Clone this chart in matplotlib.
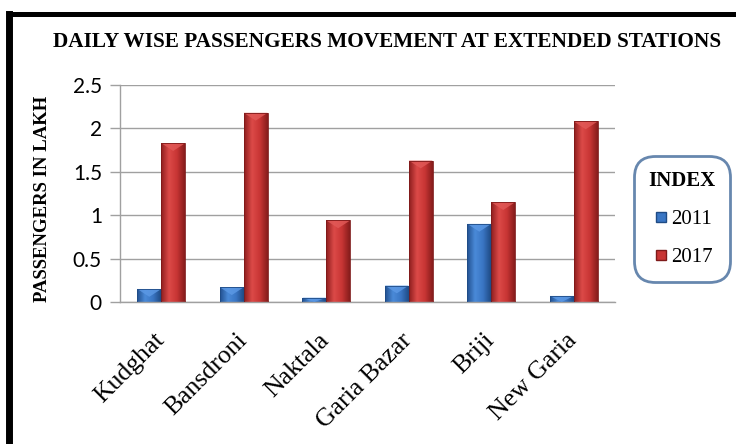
import numpy as np
import matplotlib
matplotlib.use("Agg")
import matplotlib.pyplot as plt
from matplotlib.colors import LinearSegmentedColormap
from matplotlib.lines import Line2D
from matplotlib.patches import Polygon

stations = ["Kudghat", "Bansdroni", "Naktala", "Garia Bazar", "Briji", "New Garia"]
series_names = ["2011", "2017"]
values_2011 = [0.15, 0.17, 0.05, 0.19, 0.90, 0.07]
values_2017 = [1.83, 2.18, 0.94, 1.63, 1.15, 2.08]
yticks = [0, 0.5, 1, 1.5, 2, 2.5]
ytick_labels = ["0", "0.5", "1", "1.5", "2", "2.5"]

title = "DAILY WISE PASSENGERS MOVEMENT AT EXTENDED STATIONS"
ylabel = "PASSENGERS IN LAKH"
legend_title = "INDEX"

serif = ["Liberation Serif", "DejaVu Serif"]
sans = ["Lato", "DejaVu Sans"]

fig = plt.figure(figsize=(7.36, 4.44), dpi=100)
fig.patch.set_facecolor("white")
ax = fig.add_axes([120/736, 1 - 302/444, 495/736, 217/444])

x = np.arange(len(stations))
w = 0.29
blue_cmap = LinearSegmentedColormap.from_list("b", ["#22508f", "#4a8ad8", "#3a76c4", "#1f4b85"])
red_cmap = LinearSegmentedColormap.from_list("r", ["#8e1e1e", "#dc4a48", "#c83534", "#861c1c"])
bevel_col = {"b": "#5d9ae6", "r": "#e25a58"}

grad = np.linspace(0, 1, 64).reshape(1, -1)
for vals, off, cmap, ec, key in [(values_2011, -w/2, blue_cmap, "#1f4b85", "b"),
                                 (values_2017, w/2, red_cmap, "#7e1a1a", "r")]:
    bars = ax.bar(x + off, vals, width=w, color="none", edgecolor=ec, linewidth=0.6, zorder=3)
    for b in bars:
        x0, y0 = b.get_x(), b.get_y()
        bw, bh = b.get_width(), b.get_height()
        im = ax.imshow(grad, cmap=cmap, extent=(x0, x0 + bw, y0, y0 + bh),
                       aspect="auto", zorder=2.5, interpolation="bicubic")
        im.set_clip_path(b)
        bev = min(0.09, bh)
        tri = Polygon([(x0, y0 + bh), (x0 + bw, y0 + bh), (x0 + bw / 2, y0 + bh - bev)],
                      closed=True, facecolor=bevel_col[key], edgecolor="none",
                      alpha=0.8, zorder=2.8)
        ax.add_patch(tri)

ax.set_xlim(-0.5, len(stations) - 0.5)
ax.set_ylim(0, 2.5)
ax.set_yticks(yticks)
ax.set_yticklabels(ytick_labels, fontfamily=sans, fontsize=15)
ax.set_xticks(x)
ax.set_xticklabels(stations, rotation=45, ha="right", va="center", rotation_mode="anchor",
                   fontfamily=serif, fontsize=18.5)
ax.tick_params(axis="x", length=0, pad=25)
ax.tick_params(axis="y", length=7, width=1, color="#a0a0a0", pad=6)
ax.grid(axis="y", color="#a0a0a0", linewidth=1, zorder=0)
ax.set_axisbelow(True)
for s in ["top", "right"]:
    ax.spines[s].set_visible(False)
for s in ["left", "bottom"]:
    ax.spines[s].set_color("#a0a0a0")
    ax.spines[s].set_linewidth(1)

fig.text(43/736, 1 - 199/444, ylabel, rotation=90, ha="center", va="center",
         fontfamily=serif, fontweight="bold", fontsize=13.5)
fig.text(387/736, 1 - 42/444, title, ha="center", va="center",
         fontfamily=serif, fontweight="bold", fontsize=15.3)

# legend
handles = [Line2D([], [], marker="s", linestyle="none", markersize=7,
                  markerfacecolor="#3a76c4", markeredgecolor="#1f4b85"),
           Line2D([], [], marker="s", linestyle="none", markersize=7,
                  markerfacecolor="#c83534", markeredgecolor="#7e1a1a")]
leg = fig.legend(handles, series_names, title=legend_title,
                 loc="center", bbox_to_anchor=(682/736, 1 - 219/444),
                 prop={"family": serif, "size": 15},
                 title_fontproperties={"family": serif, "weight": "bold", "size": 15},
                 frameon=True, fancybox=True, handletextpad=0.0, handlelength=1.0,
                 labelspacing=0.9, borderpad=0.7, borderaxespad=0)
fr = leg.get_frame()
fr.set_edgecolor("#41699a")
fr.set_linewidth(2)
fr.set_boxstyle("round,pad=0,rounding_size=1.0")

# outer black border (left and top)
fig.add_artist(Line2D([8.5/736, 8.5/736], [0, 1 - 14.5/444], transform=fig.transFigure,
                      color="black", linewidth=5, solid_capstyle="projecting"))
fig.add_artist(Line2D([8.5/736, 1.0], [1 - 14.5/444, 1 - 14.5/444], transform=fig.transFigure,
                      color="black", linewidth=3.6, solid_capstyle="projecting"))

fig.savefig("out.png", dpi=100, facecolor="white")
